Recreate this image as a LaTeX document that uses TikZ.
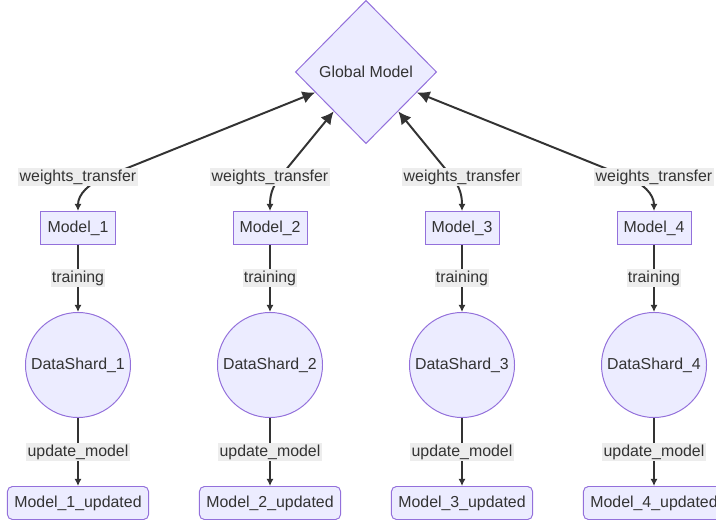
\documentclass[tikz,border=0pt]{standalone}
\usepackage{fontspec}
\setmainfont{Liberation Sans}
\usetikzlibrary{arrows.meta, shapes.geometric}
\definecolor{nodeFill}{RGB}{236, 236, 255}
\definecolor{nodeLine}{RGB}{147, 112, 219}
\definecolor{edgeLine}{RGB}{51, 51, 51}
\definecolor{labelFill}{RGB}{237, 237, 237}

\begin{document}
\begin{tikzpicture}[x=0.025cm, y=0.025cm, font=\fontsize{11.3}{13}\selectfont, text=edgeLine,
  box/.style={draw=nodeLine, fill=nodeFill, line width=0.7pt, minimum height=0.825cm, inner sep=2pt},
  model/.style={box, minimum width=1.85cm},
  updated/.style={box, minimum width=3.525cm, rounded corners=3.5pt},
  shard/.style={circle, draw=nodeLine, fill=nodeFill, line width=0.7pt, minimum size=2.625cm, inner sep=0pt},
  hub/.style={diamond, draw=nodeLine, fill=nodeFill, line width=0.7pt, minimum width=3.53cm, minimum height=3.58cm, inner sep=0pt},
  tag/.style={fill=labelFill, inner sep=1pt, minimum height=0.45cm},
  flow/.style={draw=edgeLine, line width=1.4pt, -{Latex[length=5pt,width=5pt]}},
  sync/.style={draw=edgeLine, line width=1.4pt, {Latex[length=5pt,width=5pt]}-{Latex[length=9pt,width=9pt]}}]
  \useasboundingbox (0,0) rectangle (716,525);
  % central model
  \node[hub] (gm) at (366,453) {Global Model};
  % one column per shard: x, shift of the edge at the label, angle into it
  \foreach \i/\x/\dx/\ang in {1/78/27/202, 2/270/10/231, 3/462/-10/309, 4/654/-27/338} {
    \node[model] (m\i) at (\x,297) {Model\_\i};
    \node[shard] (d\i) at (\x,160) {DataShard\_\i};
    \node[updated] (u\i) at (\x,22) {Model\_\i\_updated};
    \coordinate (c\i) at (\x+\dx,348);
    \draw[sync] (m\i.north) to[out=90, in=\ang] (c\i) -- (gm);
    \draw[flow] (m\i) -- (d\i) node[midway, tag] (t\i) {training};
    \draw[flow] (d\i) -- (u\i) node[midway, tag] (v\i) {update\_model};
    \node[tag] (w\i) at (\x,348) {weights\_transfer};
  }
\end{tikzpicture}
\end{document}
